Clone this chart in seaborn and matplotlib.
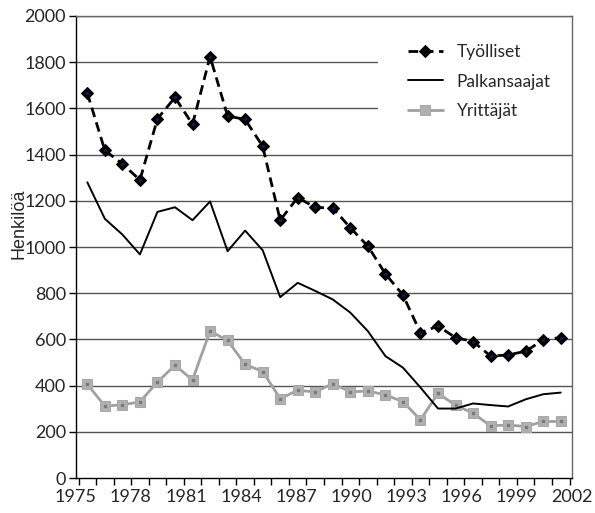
import numpy as np
import pandas as pd
import matplotlib
matplotlib.use('Agg')
import matplotlib.pyplot as plt
from matplotlib.patches import Rectangle
import seaborn as sns

years = list(range(1975, 2003))
tyolliset = [1666, 1418, 1360, 1290, 1555, 1647, 1531, 1824, 1567, 1552,
             1436, 1116, 1214, 1171, 1169, 1083, 1004, 884, 792, 629,
             658, 608, 591, 528, 533, 549, 598, 608]
palkansaajat = [1280, 1122, 1054, 968, 1152, 1172, 1116, 1197, 982, 1071,
                986, 783, 845, 810, 773, 716, 636, 528, 478, 392,
                301, 301, 323, 316, 310, 341, 363, 370]
yrittajat = [406, 312, 317, 330, 416, 488, 425, 636, 596, 492,
             461, 344, 380, 373, 409, 373, 377, 360, 331, 252,
             367, 315, 281, 226, 230, 223, 245, 245]
year_labels = list(range(1975, 2003, 3))
y_ticks = list(range(0, 2001, 200))

sns.set_style('white')
plt.rcParams['font.family'] = ['Lato', 'DejaVu Sans']

fig = plt.figure(figsize=(5.95, 5.13), dpi=100)
ax = fig.add_axes([0.127, 0.068, 0.834, 0.901])

ax.set_axisbelow(True)
for v in y_ticks[1:]:
    ax.axhline(v, color='#555555', lw=1, zorder=0.5)
# white box behind the legend hides the grid there
ax.add_patch(Rectangle((0.61, 0.72), 0.39, 0.255, transform=ax.transAxes,
                       facecolor='white', edgecolor='none', zorder=1))

sns.lineplot(x=years, y=tyolliset, ax=ax, color='black', lw=2,
             linestyle=(0, (3.5, 2)), marker='D', markersize=6.5,
             markeredgecolor='black', label='Työlliset', zorder=3)
sns.lineplot(x=years, y=palkansaajat, ax=ax, color='black', lw=1.4,
             label='Palkansaajat', zorder=3)
sns.lineplot(x=years, y=yrittajat, ax=ax, color='#a0a0a0', lw=2,
             marker='s', markersize=6.5, markerfacecolor='#b0b0b0',
             markeredgecolor='#a8a8a8', label='Yrittäjät', zorder=2.5)
ax.plot(years, yrittajat, ls='none', marker='s', markersize=2,
        color='#7a7a7a', zorder=2.6)
ax.plot(years, tyolliset, ls='none', marker='o', markersize=1.2,
        color='#1a1a5a', zorder=3.5)

ax.set_xlim(1974.5, 2002.5)
ax.set_ylim(0, 2000)
ax.set_yticks(y_ticks)
ax.set_xticks(np.linspace(1974.33, 2002.63, len(year_labels)))
ax.set_xticklabels([str(y) for y in year_labels])
ax.set_xticks(np.arange(1974.5, 2003, 1), minor=True)
ax.tick_params(axis='x', which='major', length=0, pad=8, labelsize=13)
ax.tick_params(axis='x', which='minor', length=5, width=1, color='black',
               direction='out', bottom=True)
ax.tick_params(axis='y', length=5, width=1, color='black', direction='out',
               left=True, pad=2, labelsize=13)

for side in ['left', 'bottom']:
    ax.spines[side].set_color('black')
    ax.spines[side].set_linewidth(1)
for side in ['top', 'right']:
    ax.spines[side].set_color('#666666')
    ax.spines[side].set_linewidth(1)

ax.set_xlabel('')
ax.set_ylabel('Henkilöä', family=['Liberation Sans', 'DejaVu Sans'],
              fontsize=13)
ax.yaxis.set_label_coords(-0.097, 0.55)

ax.legend(loc='upper left', bbox_to_anchor=(0.67, 0.94), frameon=False,
          borderpad=0, borderaxespad=0, fontsize=12.5, handlelength=2.0,
          handletextpad=0.8, labelspacing=0.8)

plt.savefig('out.png', dpi=100)
